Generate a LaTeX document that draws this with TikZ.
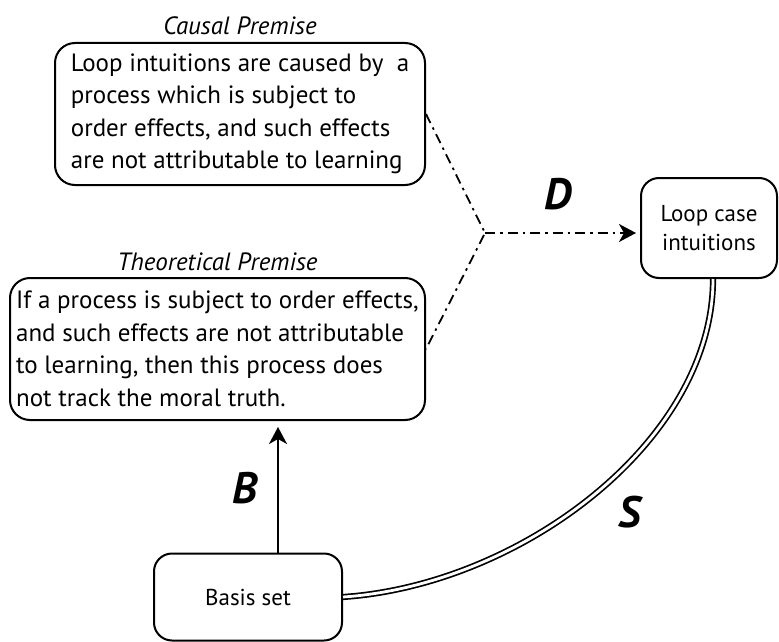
\documentclass[tikz,border=0pt]{standalone}
\usepackage{fontspec}
\setmainfont{PT Sans}
\usepackage{tikz}
\usetikzlibrary{arrows.meta}
\usetikzlibrary{positioning, calc}

\tikzset{
  premise/.style = {draw, line width=2pt, rounded corners=20pt, align=left, font=\fontsize{25}{32.5}\selectfont},
  smallbox/.style = {draw, line width=2pt, rounded corners=18pt, align=center, font=\fontsize{23}{29}\selectfont},
  heading/.style = {inner sep=0pt, font=\fontsize{25}{30}\selectfont\itshape},
  letter/.style = {inner sep=0pt, font=\fontsize{44}{44}\selectfont\bfseries\itshape},
  dashdot/.style = {line width=1.8pt, dash pattern=on 10pt off 5pt on 2.5pt off 5pt},
  tip/.style = {-{Stealth[length=17pt, width=18pt, inset=5pt]}},
}

\begin{document}
\begin{tikzpicture}[x=1pt, y=-1pt]
\useasboundingbox (0, 0) rectangle (779, 642);

%premises
\node[premise, minimum width=370pt, minimum height=142pt] (causal) at (240, 114) {Loop intuitions are caused by\ \ a\\process which is subject to\\order effects, and such effects\\are not attributable to learning};
\node[heading, above=7pt of causal] (causalhead) {Causal Premise};

\node[premise, minimum width=415pt, minimum height=142pt] (theo) at (217.5, 349) {If a process is subject to order effects,\\and such effects are not attributable\\to learning, then this process does\\not track the moral truth.};
\node[heading, above=6pt of theo] (theohead) {Theoretical Premise};

%conclusion and basis
\node[smallbox, minimum width=136pt, minimum height=100pt] (loop) at (709, 228) {Loop case\\intuitions};
\node[smallbox, minimum width=188pt, minimum height=87pt] (basis) at (248, 597) {Basis set};

%D
\coordinate (fork) at (485, 233);
\draw[dashdot] (causal.east) -- (fork) -- (theo.east);
\draw[dashdot, tip, shorten >=4pt] (fork) -- (fork -| loop.west);
\node[letter] (dlabel) at (558, 194) {D};

%B
\draw[line width=2.2pt, tip, shorten >=6pt] ([xshift=30pt]basis.north) -- ([xshift=30pt]basis.north |- theo.south);
\node[letter] (blabel) at (245, 488) {B};

%S
\draw[line width=1.7pt, double, double distance=2.8pt] (basis.east) .. controls +(178, -12) and +(0, 162) .. ([xshift=4pt]loop.south);
\node[letter] (slabel) at (630, 512) {S};

\end{tikzpicture}
\end{document}
